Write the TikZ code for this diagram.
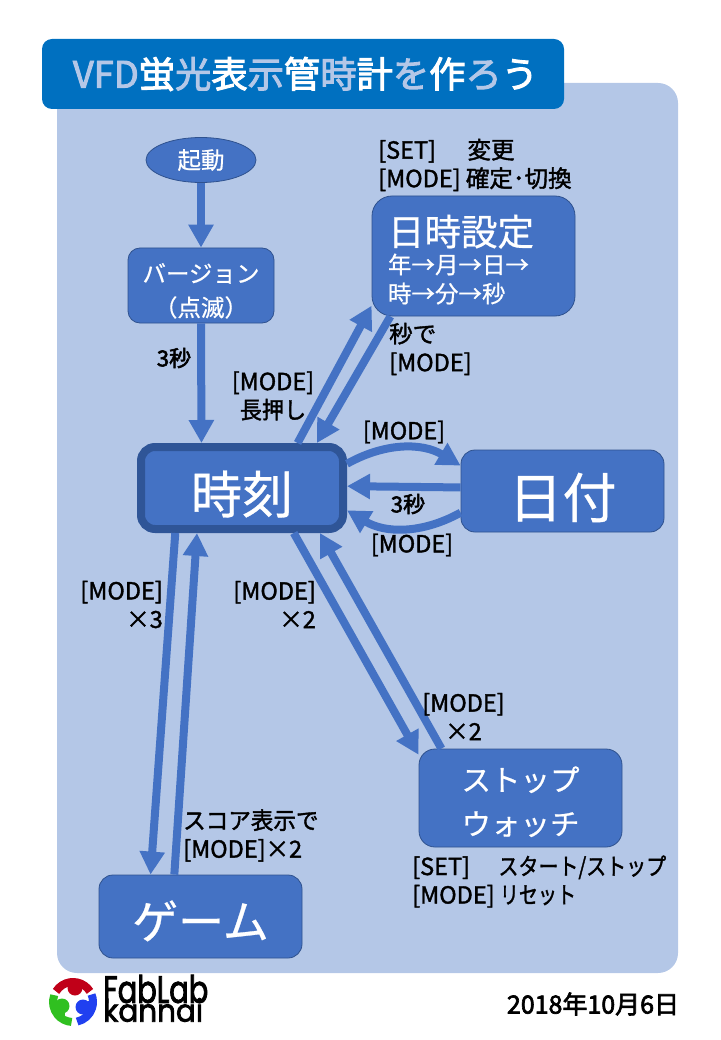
\documentclass[tikz,border=0pt]{standalone}
\usepackage{fontspec}
\setmainfont[RawFeature={embolden=0.6}]{Noto Sans CJK JP}
\newfontfamily\labelfont[RawFeature={embolden=1.6}]{Noto Sans CJK JP}
\newfontfamily\boldlabelfont[RawFeature={embolden=2.6}]{Noto Sans CJK JP}
\newfontfamily\logofont[RawFeature={embolden=2.5}]{Poppins}
\usetikzlibrary{arrows.meta, positioning, shapes}

\definecolor{panelblue}{HTML}{B4C7E7}
\definecolor{titleblue}{HTML}{0070C0}
\definecolor{boxblue}{HTML}{4472C4}
\definecolor{edgeblue}{HTML}{2F528F}
\definecolor{clockedge}{HTML}{2F5597}
\definecolor{logored}{HTML}{C00018}
\definecolor{logogreen}{HTML}{30C020}
\definecolor{logoblue}{HTML}{2040F0}

\newcommand{\lt}[1]{\textcolor{panelblue}{#1}}
\newcommand{\topgap}[1]{\rule{0pt}{#1pt}}
\newcommand{\narrow}[2]{\scalebox{#1}[1]{#2}}

\begin{document}
\begin{tikzpicture}[
    x=1pt, y=-1pt,
    box/.style={draw=edgeblue, fill=boxblue, text=white, line width=0.8pt, inner sep=0pt, align=center},
    bigbox/.style={box, minimum width=203pt, font=\fontsize{29.5}{44}\selectfont},
    flow/.style={line width=8pt, boxblue, -{Triangle[width=24pt,length=23pt]}},
    notetext/.style={inner sep=0pt, align=left, font=\labelfont\fontsize{23.5}{28.5}\selectfont},
    smallnote/.style={notetext, font=\boldlabelfont\fontsize{22}{28}\selectfont},
]

    % background
    \useasboundingbox (0,0) rectangle (720,1040);
    \fill[panelblue, rounded corners=20pt] (57,83) rectangle (678,973);
    \node[fill=titleblue, rounded corners=10pt, minimum width=522pt, minimum height=70pt, inner sep=0pt,
        text=white, font=\boldlabelfont\fontsize{36.3}{36}\selectfont] (title) at (303,74)
        {\hspace{5pt}\raisebox{-6pt}{\lt{VFD}蛍\lt{光}表\lt{示}管\lt{時}計\lt{を}作\lt{ろ}う}};

    % Node
    \node[box, ellipse, minimum width=110pt, minimum height=45pt, font=\fontsize{23.5}{28}\selectfont] (boot) at (201,160) {起動};
    \node[box, rounded corners=12pt, minimum width=146pt, minimum height=75pt, font=\fontsize{23.5}{34}\selectfont] (version) at (201,285.5) {\topgap{30}バージョン\\（点滅）};
    \node[box, rounded corners=20pt, minimum width=203pt, minimum height=120pt, text width=171pt, align=left,
        font=\fontsize{23.5}{29}\selectfont] (setting) at (473.5,256)
        {\topgap{38}\fontsize{36.5}{41}\selectfont 日時設定\\[-1pt]\fontsize{23.5}{29}\selectfont 年→月→日→\\時→分→秒};
    \node[box, draw=clockedge, line width=8pt, rounded corners=14pt, minimum width=202pt, minimum height=82pt, font=\fontsize{51}{51}\selectfont] (clock) at (242,488) {\topgap{55}時刻};
    \node[bigbox, rounded corners=14pt, minimum height=82pt, font=\fontsize{54}{54}\selectfont] (date) at (562.5,491) {\topgap{58}日付};
    \node[bigbox, rounded corners=16pt, minimum height=98pt] (stopwatch) at (520.5,798) {\topgap{32}ストップ\\ウォッチ};
    \node[bigbox, rounded corners=14pt, minimum height=83pt, font=\fontsize{46}{46}\selectfont] (game) at (200.5,916.5) {\topgap{47}ゲーム};

    % Edges
    \draw[flow] (boot) -- (version);
    \draw[flow] (version.south) -- (clock.132.3);
    \draw[flow] (clock.39.3) -- (setting.206.2);
    \draw[flow] (setting.216.4) -- (clock.31.7);
    \draw[flow, bend left=30] (clock.13.9) to (date.166.7);
    \draw[flow] (date.178.9) -- (clock.1.1);
    \draw[flow, bend left=30] (date.192.2) to (clock.348.2);
    \draw[flow] (clock.319.7) -- (stopwatch.157.6);
    \draw[flow] (stopwatch.148.7) -- (clock.330.6);
    \draw[flow] (clock.214.3) -- (game.140.6);
    \draw[flow] (game.122.6) -- (clock.225);

    % Labels
    \node[notetext, anchor=west] (settingnote) at (378,165) {[SET]　\hspace{8pt}変更\\{[MODE]} 確定･切換};
    \node[smallnote] (versionnote) at (174,358) {3秒};
    \node[notetext, align=center] (holdnote) at (273,396) {[MODE]\\\narrow{0.94}{長押し}};
    \node[notetext, anchor=west] (backnote) at (389,349) {秒で\\{[MODE]}};
    \node[notetext] (dateup) at (404,432) {[MODE]};
    \node[smallnote] (datetime) at (408,504) {3秒};
    \node[notetext] (datedown) at (412,545) {[MODE]};
    \node[notetext, anchor=east, align=right] (gamegoes) at (163,604.5) {[MODE]\\×3};
    \node[notetext, anchor=east, align=right] (stopgoes) at (316,604.5) {[MODE]\\×2};
    \node[notetext, align=center] (stopback) at (463.5,716.5) {[MODE]\\×2};
    \node[notetext, anchor=west] (gameback) at (183,835.5) {\narrow{0.96}{スコア表示で}\\{[MODE]}×2};
    \node[notetext, anchor=west] (stopnote) at (412,881.5) {[SET]　\hspace{5pt}\narrow{0.85}{スタート/ストップ}\\{[MODE]} \narrow{0.81}{リセット}};
    \node[smallnote, font=\boldlabelfont\fontsize{25}{28}\selectfont] (today) at (593,1004) {2018年10月6日};

    % Logo
    \draw[line width=8pt, logored] (73,1002) ++(32:20pt) arc[start angle=32, end angle=148, radius=20pt];
    \draw[line width=8pt, logogreen] (73,1002) ++(160:20pt) arc[start angle=160, end angle=266, radius=20pt];
    \draw[line width=8pt, logoblue] (73,1002) ++(-78:20pt) arc[start angle=-78, end angle=22, radius=20pt];
    \fill[logored] (75,988) circle[radius=7.5pt];
    \draw[line width=5pt, logored] (75,988) -- (67,982);
    \fill[logogreen] (62,1006) circle[radius=7.5pt];
    \draw[line width=5pt, logogreen] (62,1006) -- (62,1020);
    \fill[logoblue] (83,1007) circle[radius=7.5pt];
    \draw[line width=5pt, logoblue] (83,1007) -- (92,1002);
    \node[inner sep=0pt, anchor=west, font=\logofont\fontsize{38}{38}\selectfont] (fablab) at (103,989) {\narrow{0.76}{FabLab}};
    \node[inner sep=0pt, anchor=west, font=\logofont\fontsize{31}{31}\selectfont] (kannai) at (103,1010) {\narrow{0.95}{kannai}};

\end{tikzpicture}
\end{document}
